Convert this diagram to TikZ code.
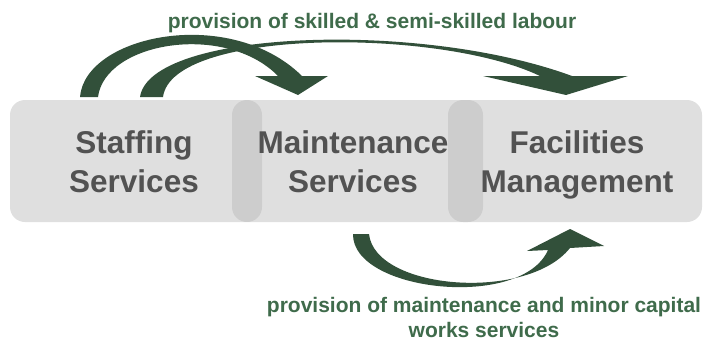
\documentclass[tikz,border=0pt]{standalone}
\usepackage{fontspec}
\setmainfont{Liberation Sans}
\begin{document}
\begin{tikzpicture}[x=1pt,y=-1pt,
  boxstyle/.style={rounded corners=15pt, fill=boxgray, fill opacity=0.45, draw=none},
  boxtext/.style={text=textgray, font=\bfseries\fontsize{31.5}{39}\selectfont, align=center, text opacity=1},
  labeltext/.style={text=labelgreen, font=\bfseries\fontsize{21}{25}\selectfont, align=center, inner sep=0pt},
  arrowshape/.style={fill=arrowgreen, draw=none}]
\definecolor{boxgray}{HTML}{B8B8B8}
\definecolor{textgray}{HTML}{525252}
\definecolor{labelgreen}{HTML}{3F6B4B}
\definecolor{arrowgreen}{HTML}{32503A}
\useasboundingbox (0,0) rectangle (707,340);
% boxes
\fill[boxstyle] (10,100) rectangle (262,222);
\fill[boxstyle] (232,100) rectangle (483,222);
\fill[boxstyle] (448,100) rectangle (702,222);
\node[boxtext] (staff) at (134,162) {Staffing\\Services};
\node[boxtext] (maint) at (353,162) {Maintenance\\Services};
\node[boxtext] (facil) at (577,165) {Facilities\\Management};
% top label
\node[labeltext, anchor=base] (toplabel) at (372,28) {provision of skilled \& semi-skilled labour};
% bottom label
\node[labeltext] (botlabel) at (484,317) {provision of maintenance and minor capital\\works services};
% long arrow (Staffing -> Facilities)
\fill[arrowshape] (140,97) .. controls (150,30) and (420,20) .. (572,76)
  -- (628,76) -- (566,95) -- (483,76) -- (540,76)
  .. controls (440,28) and (172,28) .. (163,97) -- cycle;
% short arrow (Staffing -> Maintenance)
\fill[arrowshape] (80,97) .. controls (85,35) and (230,5) .. (302,76)
  -- (328,76) -- (298,95) -- (255,76) -- (278,76)
  .. controls (225,22) and (105,42) .. (98,97) -- cycle;
% bottom arrow (Maintenance -> Facilities)
\fill[arrowshape] (353,234) .. controls (352,292) and (522,310) .. (548,250)
  -- (527,251) -- (570,229) -- (604,246) -- (570,248)
  .. controls (527,302) and (375,290) .. (369,234) -- cycle;
\end{tikzpicture}
\end{document}
